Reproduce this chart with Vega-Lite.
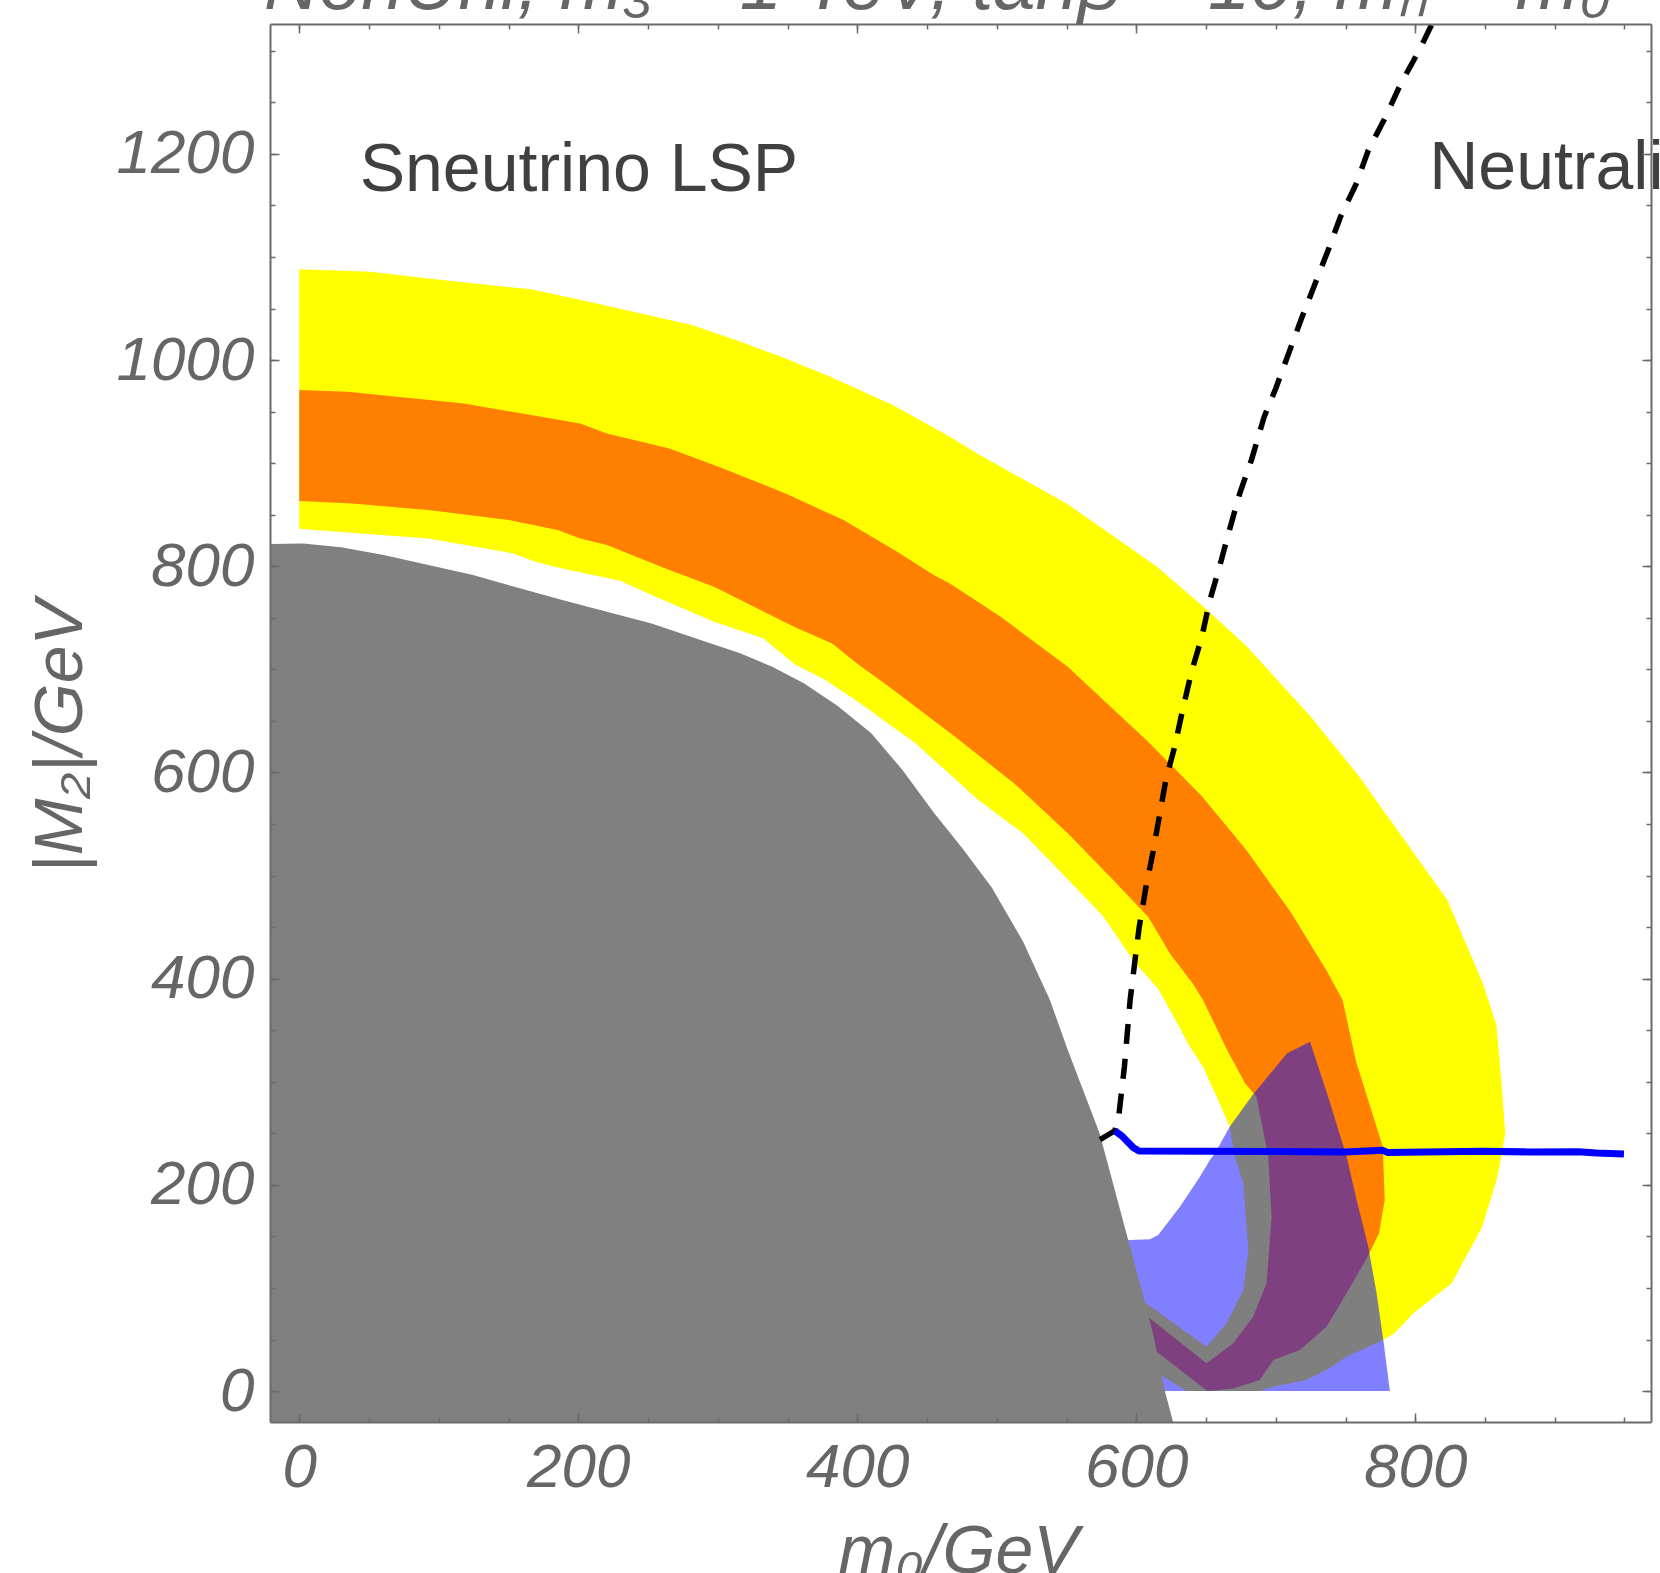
{
  "$schema": "https://vega.github.io/schema/vega-lite/v6.json",
  "autosize": {"type": "none"},
  "width": 1381,
  "height": 1398,
  "padding": {"left": 270, "top": 24, "right": 9, "bottom": 151},
  "background": "white",
  "config": {"view": {"stroke": null}},
  "datasets": {
    "yellow": [
      {"i":1,"x":0,"y":1088},{"i":2,"x":50.9,"y":1085.7},{"i":3,"x":92.5,"y":1079.2},{"i":4,"x":166.1,"y":1068.6},
      {"i":5,"x":207.7,"y":1056.6},{"i":6,"x":281.3,"y":1034},{"i":7,"x":316.5,"y":1017.8},{"i":8,"x":348.6,"y":1001.6},
      {"i":9,"x":380.6,"y":983.8},{"i":10,"x":425.4,"y":956.4},{"i":11,"x":466.4,"y":925.6},{"i":12,"x":486.8,"y":908.7},
      {"i":13,"x":550.9,"y":860.2},{"i":14,"x":614.9,"y":799.6},{"i":15,"x":650.4,"y":758.2},{"i":16,"x":678.9,"y":722.8},
      {"i":17,"x":724.5,"y":655},{"i":18,"x":759,"y":597.5},{"i":19,"x":791,"y":536.9},{"i":20,"x":823,"y":476.3},
      {"i":21,"x":848.5,"y":395.4},{"i":22,"x":858.2,"y":355},{"i":23,"x":861.8,"y":298.5},{"i":24,"x":864.5,"y":250},
      {"i":25,"x":859,"y":208},{"i":26,"x":848,"y":159.4},{"i":27,"x":826.1,"y":104.5},{"i":28,"x":798.7,"y":75.4},
      {"i":29,"x":785,"y":56},{"i":30,"x":777.1,"y":49.5},{"i":31,"x":750.8,"y":33.4},{"i":32,"x":736.4,"y":20.4},
      {"i":33,"x":722,"y":10.7},{"i":34,"x":698.2,"y":4.3},{"i":35,"x":688.6,"y":0},{"i":36,"x":636,"y":0},
      {"i":37,"x":619.3,"y":14},{"i":38,"x":605,"y":26},{"i":39,"x":590,"y":35},{"i":40,"x":590,"y":100},
      {"i":41,"x":600,"y":92},{"i":42,"x":650.4,"y":43},{"i":43,"x":664.7,"y":65.7},{"i":44,"x":676.7,"y":98},
      {"i":45,"x":680.3,"y":136.8},{"i":46,"x":676.7,"y":201.5},{"i":47,"x":670.7,"y":227.3},{"i":48,"x":667,"y":256.5},
      {"i":49,"x":658.7,"y":282.3},{"i":50,"x":647.8,"y":314.6},{"i":51,"x":638,"y":335},{"i":52,"x":630,"y":355},
      {"i":53,"x":620.3,"y":379.3},{"i":54,"x":614.9,"y":391.4},{"i":55,"x":598.9,"y":415.7},{"i":56,"x":576.5,"y":460.1},
      {"i":57,"x":550.9,"y":496.5},{"i":58,"x":518.9,"y":541},{"i":59,"x":486.8,"y":573.3},{"i":60,"x":442,"y":628},
      {"i":61,"x":400,"y":669},{"i":62,"x":377,"y":690},{"i":63,"x":355,"y":705},{"i":64,"x":332.6,"y":730.1},
      {"i":65,"x":297.3,"y":746.2},{"i":66,"x":252.5,"y":772.1},{"i":67,"x":230.1,"y":786},{"i":68,"x":188.5,"y":797.9},
      {"i":69,"x":169.3,"y":804.4},{"i":70,"x":153.3,"y":812.5},{"i":71,"x":92.5,"y":827},{"i":72,"x":44.5,"y":831.9},
      {"i":73,"x":0,"y":836.4}
    ],
    "orange": [
      {"i":1,"x":0,"y":970.9},{"i":2,"x":34.9,"y":969.3},{"i":3,"x":70.1,"y":964.4},{"i":4,"x":118.1,"y":958},
      {"i":5,"x":166.1,"y":946.7},{"i":6,"x":201.3,"y":938.6},{"i":7,"x":220.5,"y":928.9},{"i":8,"x":265.3,"y":914.3},
      {"i":9,"x":300.6,"y":896.6},{"i":10,"x":348.6,"y":870.7},{"i":11,"x":358.8,"y":864.2},{"i":12,"x":390.2,"y":844.8},
      {"i":13,"x":428.6,"y":814.1},{"i":14,"x":454.8,"y":791.5},{"i":15,"x":466.4,"y":783.4},{"i":16,"x":502.8,"y":751.1},
      {"i":17,"x":550.9,"y":702.6},{"i":18,"x":608.5,"y":629.8},{"i":19,"x":646.9,"y":577.3},{"i":20,"x":678.9,"y":524.8},
      {"i":21,"x":710.9,"y":464.1},{"i":22,"x":736.5,"y":407.6},{"i":23,"x":747.9,"y":379.3},{"i":24,"x":757.5,"y":320},
      {"i":25,"x":768.5,"y":272.6},{"i":26,"x":776.7,"y":237},{"i":27,"x":778.1,"y":185.3},{"i":28,"x":774,"y":153},
      {"i":29,"x":765.8,"y":130.4},{"i":30,"x":750.8,"y":94.8},{"i":31,"x":736.4,"y":62.5},{"i":32,"x":717.3,"y":39.8},
      {"i":33,"x":698.2,"y":30.1},{"i":34,"x":688.6,"y":10.7},{"i":35,"x":669.5,"y":2.6},{"i":36,"x":651,"y":0},
      {"i":37,"x":616,"y":36.6},{"i":38,"x":595,"y":55},{"i":39,"x":595,"y":84},{"i":40,"x":609.8,"y":70.5},
      {"i":41,"x":650.4,"y":26.9},{"i":42,"x":669.5,"y":46.3},{"i":43,"x":683.8,"y":72.2},{"i":44,"x":693.4,"y":104.5},
      {"i":45,"x":697,"y":169.1},{"i":46,"x":694.6,"y":227.3},{"i":47,"x":686.2,"y":285.5},{"i":48,"x":678,"y":298.5},
      {"i":49,"x":665,"y":331},{"i":50,"x":656.5,"y":355},{"i":51,"x":647.8,"y":379.3},{"i":52,"x":640.5,"y":395.4},
      {"i":53,"x":624.5,"y":423.7},{"i":54,"x":608.5,"y":460.1},{"i":55,"x":582.9,"y":496.5},{"i":56,"x":550.9,"y":541},
      {"i":57,"x":512.5,"y":589.4},{"i":58,"x":470.8,"y":633.9},{"i":59,"x":425,"y":681},{"i":60,"x":399.8,"y":705.8},
      {"i":61,"x":382,"y":725},{"i":62,"x":355,"y":741},{"i":63,"x":297.3,"y":780.2},{"i":64,"x":262.1,"y":798},
      {"i":65,"x":220.5,"y":820.6},{"i":66,"x":201.3,"y":827},{"i":67,"x":185.3,"y":835.1},{"i":68,"x":150.1,"y":844.8},
      {"i":69,"x":92.5,"y":854.5},{"i":70,"x":38.1,"y":861},{"i":71,"x":0,"y":863.3}
    ],
    "blueregion": [
      {"i":1,"x":585,"y":148},{"i":2,"x":595.4,"y":146.5},{"i":3,"x":609.8,"y":147.2},{"i":4,"x":615.7,"y":151.4},
      {"i":5,"x":631.3,"y":178.8},{"i":6,"x":645.6,"y":207.9},{"i":7,"x":652.8,"y":224.1},{"i":8,"x":656.4,"y":230.6},
      {"i":9,"x":667,"y":256.5},{"i":10,"x":683.4,"y":287.2},{"i":11,"x":708.1,"y":327.6},{"i":12,"x":724.6,"y":338.9},
      {"i":13,"x":738.3,"y":282.3},{"i":14,"x":750.8,"y":227.3},{"i":15,"x":758,"y":185.3},{"i":16,"x":766.3,"y":140},
      {"i":17,"x":772.3,"y":94.8},{"i":18,"x":777.1,"y":49.5},{"i":19,"x":781.8,"y":0},{"i":20,"x":600,"y":0}
    ],
    "grey": [
      {"i":1,"x":-30,"y":-40},{"i":2,"x":-30,"y":821.5},{"i":3,"x":2.9,"y":822.2},{"i":4,"x":30,"y":818.5},
      {"i":5,"x":60.5,"y":810.9},{"i":6,"x":124.5,"y":791.5},{"i":7,"x":188.5,"y":767.2},{"i":8,"x":252.5,"y":744.6},
      {"i":9,"x":316.5,"y":715.5},{"i":10,"x":339,"y":702.5},{"i":11,"x":362,"y":686.4},{"i":12,"x":386,"y":664.5},
      {"i":13,"x":410,"y":638},{"i":14,"x":432.4,"y":602.5},{"i":15,"x":454.8,"y":561.1},{"i":16,"x":475.6,"y":526},
      {"i":17,"x":496.4,"y":488.4},{"i":18,"x":518.9,"y":435.9},{"i":19,"x":538.1,"y":379.3},{"i":20,"x":550.9,"y":330.8},
      {"i":21,"x":573.7,"y":250},{"i":22,"x":592.9,"y":153},{"i":23,"x":602.6,"y":104.5},{"i":24,"x":612,"y":56},
      {"i":25,"x":620.5,"y":0},{"i":26,"x":626.4,"y":-30},{"i":27,"x":627.5,"y":-40}
    ],
    "dash": [
      {"i":1,"x":574,"y":244},{"i":2,"x":584.6,"y":252.5},{"i":3,"x":587.4,"y":266.1},{"i":4,"x":591.5,"y":314.6},
      {"i":5,"x":595.6,"y":379.3},{"i":6,"x":598.9,"y":415.7},{"i":7,"x":602.1,"y":450},{"i":8,"x":606.9,"y":488.4},
      {"i":9,"x":611.7,"y":520.7},{"i":10,"x":616.5,"y":557.1},{"i":11,"x":621.3,"y":593.5},{"i":12,"x":627.7,"y":625.8},
      {"i":13,"x":633.6,"y":663},{"i":14,"x":639.6,"y":697.6},{"i":15,"x":646.9,"y":730.9},{"i":16,"x":652.7,"y":766.8},
      {"i":17,"x":659.7,"y":799.6},{"i":18,"x":667,"y":836.2},{"i":19,"x":674.1,"y":870.3},{"i":20,"x":682.6,"y":903.3},
      {"i":21,"x":691.7,"y":945},{"i":22,"x":700,"y":972.5},{"i":23,"x":718,"y":1038.8},{"i":24,"x":737.6,"y":1106.8},
      {"i":25,"x":746.4,"y":1139},{"i":26,"x":757.9,"y":1171.7},{"i":27,"x":766.4,"y":1203.6},{"i":28,"x":779,"y":1236.6},
      {"i":29,"x":789.7,"y":1268.3},{"i":30,"x":803.3,"y":1301.6},{"i":31,"x":812,"y":1326}
    ],
    "bline": [
      {"i":1,"x":584.6,"y":252.5},{"i":2,"x":590,"y":247},{"i":3,"x":598,"y":236},{"i":4,"x":602,"y":232.8},
      {"i":5,"x":650,"y":232.6},{"i":6,"x":700,"y":232.3},{"i":7,"x":750,"y":232},{"i":8,"x":776.7,"y":233.5},
      {"i":9,"x":780,"y":231.5},{"i":10,"x":848,"y":232.5},{"i":11,"x":880,"y":232},{"i":12,"x":916.7,"y":232.2},
      {"i":13,"x":930,"y":231},{"i":14,"x":949.6,"y":230}
    ],
    "labels": [
      {"x":43.3,"y":1164.3,"label":"Sneutrino LSP"},
      {"x":810,"y":1166.4,"label":"Neutralino LSP"}
    ]
  },
  "resolve": {"axis": {"x": "independent", "y": "independent"}},
  "layer": [
    {
      "data": {"name": "yellow"},
      "mark": {"type": "line", "fill": "#FFFF00", "strokeWidth": 0, "strokeOpacity": 0, "clip": true},
      "encoding": {
        "x": {"field": "x", "type": "quantitative", "scale": {"domain": [-21, 969], "nice": false, "zero": false},
          "axis": {"orient": "bottom", "values": [0,200,400,600,800], "format": "d", "ticks": false, "grid": false,
            "domain": true, "domainColor": "#6b6b6b", "domainWidth": 2, "zindex": 1,
            "labelFont": "Liberation Sans", "labelFontStyle": "italic", "labelFontSize": 62, "labelColor": "#666666",
            "labelPadding": 15, "labelFlush": false, "labelOverlap": false,
            "title": "m₀/GeV", "titleFont": "Liberation Sans", "titleFontStyle": "italic", "titleFontWeight": "normal",
            "titleFontSize": 68, "titleColor": "#666666", "titleX": 688, "titleY": 150,
            "titleAlign": "center", "titleBaseline": "alphabetic"}},
        "y": {"field": "y", "type": "quantitative", "scale": {"domain": [-30, 1326], "nice": false, "zero": false},
          "axis": {"orient": "left", "values": [0,200,400,600,800,1000,1200], "format": "d", "ticks": false, "grid": false,
            "domain": true, "domainColor": "#6b6b6b", "domainWidth": 2, "zindex": 1,
            "labelFont": "Liberation Sans", "labelFontStyle": "italic", "labelFontSize": 62, "labelColor": "#666666",
            "labelPadding": 16, "labelFlush": false, "labelOverlap": false,
            "title": "|M₂|/GeV", "titleFont": "Liberation Sans", "titleFontStyle": "italic", "titleFontWeight": "normal",
            "titleFontSize": 68, "titleColor": "#666666", "titleAngle": -90, "titleX": -189, "titleY": 712,
            "titleAlign": "center", "titleBaseline": "alphabetic"}},
        "order": {"field": "i", "type": "quantitative"}
      }
    },
    {
      "data": {"name": "orange"},
      "mark": {"type": "line", "fill": "#FF8000", "strokeWidth": 0, "strokeOpacity": 0, "clip": true},
      "encoding": {
        "x": {"field": "x", "type": "quantitative", "scale": {"domain": [-21, 969], "nice": false, "zero": false},
          "axis": {"orient": "top", "values": [0,200,400,600,800], "labels": false, "grid": false,
            "ticks": true, "tickSize": -9, "tickColor": "#6b6b6b", "tickWidth": 1.5,
            "domain": true, "domainColor": "#6b6b6b", "domainWidth": 2, "zindex": 1,
            "title": "NonUni, m₃ = 1 TeV, tanβ = 10, mₕ = m₀", "titleFont": "Liberation Sans", "titleFontStyle": "italic",
            "titleFontWeight": "normal", "titleFontSize": 76, "titleColor": "#666666",
            "titleX": 667, "titleY": -16, "titleAlign": "center", "titleBaseline": "alphabetic"}},
        "y": {"field": "y", "type": "quantitative", "scale": {"domain": [-30, 1326], "nice": false, "zero": false},
          "axis": {"orient": "right", "values": [0,200,400,600,800,1000,1200], "labels": false, "title": null, "grid": false,
            "ticks": true, "tickSize": -9, "tickColor": "#6b6b6b", "tickWidth": 1.5,
            "domain": true, "domainColor": "#6b6b6b", "domainWidth": 2, "zindex": 1}},
        "order": {"field": "i", "type": "quantitative"}
      }
    },
    {
      "data": {"name": "blueregion"},
      "mark": {"type": "line", "fill": "#0000FF", "fillOpacity": 0.5, "strokeWidth": 0, "strokeOpacity": 0, "clip": true},
      "encoding": {
        "x": {"field": "x", "type": "quantitative", "scale": {"domain": [-21, 969], "nice": false, "zero": false},
          "axis": {"orient": "bottom", "values": [0,50,100,150,200,250,300,350,400,450,500,550,600,650,700,750,800,850,900,950],
            "labels": false, "title": null, "grid": false, "domain": false,
            "ticks": true, "tickSize": -5, "tickColor": "#6b6b6b", "tickWidth": 1.5, "zindex": 1}},
        "y": {"field": "y", "type": "quantitative", "scale": {"domain": [-30, 1326], "nice": false, "zero": false},
          "axis": {"orient": "left", "values": [0,50,100,150,200,250,300,350,400,450,500,550,600,650,700,750,800,850,900,950,1000,1050,1100,1150,1200,1250,1300],
            "labels": false, "title": null, "grid": false, "domain": false,
            "ticks": true, "tickSize": -5, "tickColor": "#6b6b6b", "tickWidth": 1.5, "zindex": 1}},
        "order": {"field": "i", "type": "quantitative"}
      }
    },
    {
      "data": {"name": "grey"},
      "mark": {"type": "line", "fill": "#808080", "strokeWidth": 0, "strokeOpacity": 0, "clip": true},
      "encoding": {
        "x": {"field": "x", "type": "quantitative", "scale": {"domain": [-21, 969], "nice": false, "zero": false},
          "axis": {"orient": "top", "values": [0,50,100,150,200,250,300,350,400,450,500,550,600,650,700,750,800,850,900,950],
            "labels": false, "title": null, "grid": false, "domain": false,
            "ticks": true, "tickSize": -5, "tickColor": "#6b6b6b", "tickWidth": 1.5, "zindex": 1}},
        "y": {"field": "y", "type": "quantitative", "scale": {"domain": [-30, 1326], "nice": false, "zero": false},
          "axis": {"orient": "right", "values": [0,50,100,150,200,250,300,350,400,450,500,550,600,650,700,750,800,850,900,950,1000,1050,1100,1150,1200,1250,1300],
            "labels": false, "title": null, "grid": false, "domain": false,
            "ticks": true, "tickSize": -5, "tickColor": "#6b6b6b", "tickWidth": 1.5, "zindex": 1}},
        "order": {"field": "i", "type": "quantitative"}
      }
    },
    {
      "data": {"name": "dash"},
      "mark": {"type": "line", "color": "#000000", "strokeWidth": 5.5, "strokeDash": [20, 15], "clip": true},
      "encoding": {
        "x": {"field": "x", "type": "quantitative", "scale": {"domain": [-21, 969], "nice": false, "zero": false},
          "axis": {"orient": "bottom", "values": [0,200,400,600,800], "labels": false, "title": null, "grid": false, "domain": false,
            "ticks": true, "tickSize": -9, "tickColor": "#6b6b6b", "tickWidth": 1.5, "zindex": 1}},
        "y": {"field": "y", "type": "quantitative", "scale": {"domain": [-30, 1326], "nice": false, "zero": false},
          "axis": {"orient": "left", "values": [0,200,400,600,800,1000,1200], "labels": false, "title": null, "grid": false, "domain": false,
            "ticks": true, "tickSize": -9, "tickColor": "#6b6b6b", "tickWidth": 1.5, "zindex": 1}},
        "order": {"field": "i", "type": "quantitative"}
      }
    },
    {
      "data": {"name": "bline"},
      "mark": {"type": "line", "color": "#0000FF", "strokeWidth": 7, "strokeJoin": "round", "clip": true},
      "encoding": {
        "x": {"field": "x", "type": "quantitative", "scale": {"domain": [-21, 969], "nice": false, "zero": false}, "axis": null},
        "y": {"field": "y", "type": "quantitative", "scale": {"domain": [-30, 1326], "nice": false, "zero": false}, "axis": null},
        "order": {"field": "i", "type": "quantitative"}
      }
    },
    {
      "data": {"name": "labels"},
      "mark": {"type": "text", "align": "left", "baseline": "alphabetic", "font": "Liberation Sans", "fontSize": 68, "color": "#404040"},
      "encoding": {
        "x": {"field": "x", "type": "quantitative", "scale": {"domain": [-21, 969], "nice": false, "zero": false}, "axis": null},
        "y": {"field": "y", "type": "quantitative", "scale": {"domain": [-30, 1326], "nice": false, "zero": false}, "axis": null},
        "text": {"field": "label"}
      }
    }
  ]
}
